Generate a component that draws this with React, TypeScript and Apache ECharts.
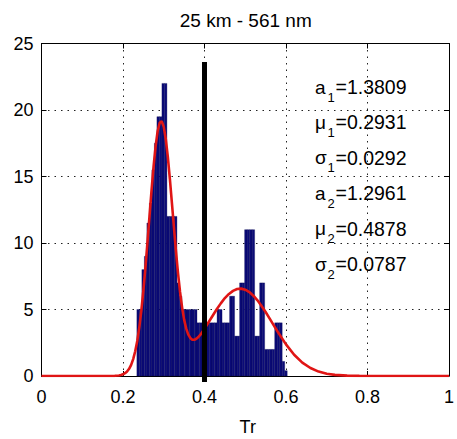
import React, { useEffect, useRef } from "react";
import * as echarts from "echarts";

// ---- data ----
const titleText = "25 km - 561 nm";
const xName = "Tr";
const xTickInterval = 0.2;
const yTickInterval = 5;
const xMin = 0, xMax = 1, yMin = 0, yMax = 25;

// histogram: bins of equal width starting at binStart
const binStart = 0.234;
const binWidth = 0.00615;
const binHeights = [
  5, 5, 8, 9, 11.5, 13, 15.5, 17.5, 19.5, 19.5,
  22, 22, 12, 12, 12, 12, 7, 6, 5, 5,
  5, 5, 5, 5, 4, 4, 4, 4, 4, 4,
  4, 4, 5, 5, 4, 4, 4, 6, 6, 3,
  3, 7, 7, 11, 11, 11, 11, 3, 3, 7,
  7, 2, 2, 2, 2, 4, 4, 4, 1.1, 0.4,
];

// fitted curve
const curveX = [
  0, 0.1, 0.15, 0.17, 0.18, 0.19, 0.195, 0.2, 0.205, 0.21, 0.215, 0.22, 0.225,
  0.23, 0.235, 0.24, 0.245, 0.25, 0.255, 0.26, 0.265, 0.27, 0.275, 0.28, 0.285,
  0.29, 0.295, 0.3, 0.305, 0.31, 0.315, 0.32, 0.325, 0.33, 0.335, 0.34, 0.345,
  0.35, 0.355, 0.36, 0.365, 0.37, 0.375, 0.38, 0.385, 0.39, 0.4, 0.41, 0.42,
  0.43, 0.44, 0.45, 0.46, 0.47, 0.48, 0.49, 0.5, 0.51, 0.52, 0.53, 0.54, 0.55,
  0.56, 0.57, 0.58, 0.6, 0.62, 0.64, 0.66, 0.68, 0.7, 0.72, 0.75, 0.78, 0.8, 1,
];
const curveY = [
  0, 0, 0, 0.003, 0.013, 0.042, 0.073, 0.125, 0.21, 0.34, 0.54, 0.84, 1.27,
  1.86, 2.64, 3.66, 4.92, 6.42, 8.14, 10.03, 12.0, 13.94, 15.74, 17.27, 18.4,
  19.04, 19.16, 18.73, 17.8, 16.47, 14.83, 13.02, 11.17, 9.37, 7.74, 6.32, 5.16,
  4.24, 3.58, 3.13, 2.86, 2.73, 2.72, 2.8, 2.93, 3.11, 3.55, 4.04, 4.53,
  5.02, 5.46, 5.86, 6.17, 6.4, 6.54, 6.57, 6.49, 6.31, 6.04, 5.69, 5.27, 4.81,
  4.31, 3.81, 3.31, 2.38, 1.6, 1.01, 0.6, 0.33, 0.17, 0.085, 0.026, 0.006, 0, 0,
];

// vertical threshold marker
const markerX = 0.4;
const markerYFrom = -0.45;
const markerYTo = 23.6;

// fit parameters
const paramSymbols = ["a", "\u03bc", "\u03c3", "a", "\u03bc", "\u03c3"];
const paramSubs = ["1", "1", "1", "2", "2", "2"];
const paramValues = ["1.3809", "0.2931", "0.0292", "1.2961", "0.4878", "0.0787"];

const FONT = "'Liberation Sans', Arial, Helvetica, sans-serif";

export default function App() {
  const ref = useRef<HTMLDivElement>(null);

  useEffect(() => {
    if (!ref.current) return;
    const chart = echarts.init(ref.current, undefined, { renderer: "svg" });

    const bins = binHeights.map((h, i) => [
      binStart + i * binWidth,
      binStart + (i + 1) * binWidth,
      h,
    ]);
    const curve = curveX.map((x, i) => [x, curveY[i]]);

    const gridLeft = 41.5;
    const gridRight = 3;
    const gridTop = 43.5;
    const gridBottom = 63;
    const plotCenterX = gridLeft + (457 - gridLeft - gridRight) / 2;

    const textRows: any[] = [];
    paramSymbols.forEach((s, i) => {
      const y = 87 + i * 35.4;
      textRows.push(
        {
          type: "text",
          x: 315,
          y,
          style: { text: s, font: `19px ${FONT}`, fill: "#000", verticalAlign: "middle" },
          z: 10,
        },
        {
          type: "text",
          x: 327.5,
          y: y + 10,
          style: { text: paramSubs[i], font: `13px ${FONT}`, fill: "#000", verticalAlign: "middle" },
          z: 10,
        },
        {
          type: "text",
          x: 335.5,
          y,
          style: { text: "=" + paramValues[i], font: `19.5px ${FONT}`, fill: "#000", verticalAlign: "middle" },
          z: 10,
        }
      );
    });

    const axisLabelStyle = { color: "#000", fontSize: 18, fontFamily: FONT };
    const splitLineStyle = { show: true, lineStyle: { color: "#222", width: 1, type: [1.5, 5] as any } };

    chart.setOption({
      animation: false,
      backgroundColor: "#fff",
      grid: { left: gridLeft, right: gridRight, top: gridTop, bottom: gridBottom, containLabel: false },
      xAxis: [
        {
          type: "value",
          min: xMin,
          max: xMax,
          interval: xTickInterval,
          position: "bottom",
          axisLine: { show: true, onZero: false, lineStyle: { color: "#000", width: 1 } },
          axisTick: { show: true, inside: true, length: 5, lineStyle: { color: "#000" } },
          axisLabel: { ...axisLabelStyle, margin: 12 },
          splitLine: splitLineStyle,
        },
        {
          type: "value",
          min: xMin,
          max: xMax,
          interval: xTickInterval,
          position: "top",
          axisLine: { show: true, onZero: false, lineStyle: { color: "#000", width: 1 } },
          axisTick: { show: true, inside: true, length: 5, lineStyle: { color: "#000" } },
          axisLabel: { show: false },
          splitLine: { show: false },
        },
      ],
      yAxis: [
        {
          type: "value",
          min: yMin,
          max: yMax,
          interval: yTickInterval,
          position: "left",
          axisLine: { show: true, onZero: false, lineStyle: { color: "#000", width: 1 } },
          axisTick: { show: true, inside: true, length: 5, lineStyle: { color: "#000" } },
          axisLabel: { ...axisLabelStyle, margin: 8 },
          splitLine: splitLineStyle,
        },
        {
          type: "value",
          min: yMin,
          max: yMax,
          interval: yTickInterval,
          position: "right",
          axisLine: { show: true, onZero: false, lineStyle: { color: "#000", width: 1 } },
          axisTick: { show: true, inside: true, length: 5, lineStyle: { color: "#000" } },
          axisLabel: { show: false },
          splitLine: { show: false },
        },
      ],
      series: [
        {
          type: "custom",
          xAxisIndex: 0,
          yAxisIndex: 0,
          z: 2,
          encode: { x: [0, 1], y: 2 },
          data: bins,
          renderItem: (_params: any, api: any) => {
            const x0 = api.value(0);
            const x1 = api.value(1);
            const h = api.value(2);
            const p0 = api.coord([x0, h]);
            const p1 = api.coord([x1, 0]);
            return {
              type: "rect",
              shape: { x: p0[0], y: p0[1], width: p1[0] - p0[0], height: p1[1] - p0[1] },
              style: { fill: "#0b0b78", stroke: "#06064a", lineWidth: 0.3 },
            };
          },
        },
        {
          type: "line",
          xAxisIndex: 0,
          yAxisIndex: 0,
          z: 3,
          data: curve,
          showSymbol: false,
          symbol: "none",
          smooth: false,
          lineStyle: { color: "#e01515", width: 2.6 },
        },
        {
          type: "line",
          xAxisIndex: 0,
          yAxisIndex: 0,
          z: 4,
          clip: false,
          data: [
            [markerX, markerYFrom],
            [markerX, markerYTo],
          ],
          showSymbol: false,
          symbol: "none",
          lineStyle: { color: "#000", width: 5, cap: "butt" },
        },
      ],
      graphic: [
        {
          type: "text",
          x: plotCenterX - 2,
          y: 20,
          style: {
            text: titleText,
            font: `19px ${FONT}`,
            fill: "#000",
            align: "center",
            verticalAlign: "middle",
          },
        },
        {
          type: "text",
          x: plotCenterX,
          y: 427,
          style: {
            text: xName,
            font: `18px ${FONT}`,
            fill: "#000",
            align: "center",
            verticalAlign: "middle",
          },
        },
        ...textRows,
      ],
    });

    return () => chart.dispose();
  }, []);

  return (
    <div
      ref={ref}
      style={{ position: "fixed", left: 0, top: 0, width: 457, height: 439, background: "#fff" }}
    />
  );
}
